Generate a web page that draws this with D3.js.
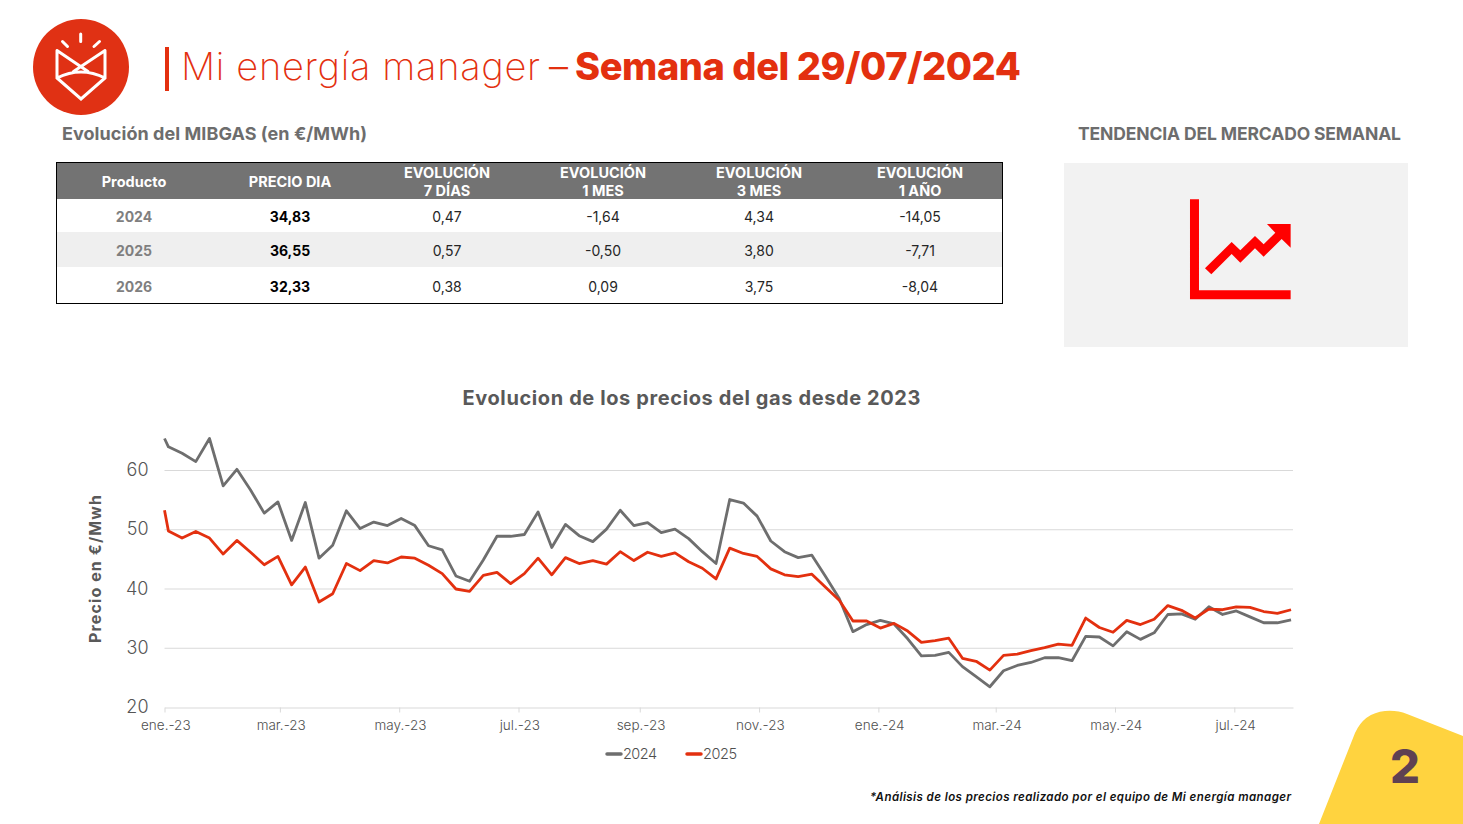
<!DOCTYPE html>
<html lang="es">
<head>
<meta charset="UTF-8">
<title>Mi energía manager</title>
<script src="https://cdn.jsdelivr.net/npm/d3@7"></script>
<style>
  html, body { margin: 0; padding: 0; background: #fff; }
  svg { display: block; }
  text { font-family: Inter, "Open Sans", sans-serif; }
</style>
</head>
<body>
<div id="slide"></div>
<script>
// series (weekly points)
var serie2024 = [65.4,64.0,62.9,61.5,65.4,57.4,60.2,56.7,52.8,54.7,48.2,54.6,45.2,47.4,53.2,50.2,51.3,50.7,51.9,50.7,47.3,46.6,42.2,41.3,44.9,48.9,48.9,49.2,53.0,47.0,50.9,49.0,48.0,50.1,53.3,50.7,51.2,49.5,50.1,48.5,46.3,44.3,55.1,54.5,52.3,48.1,46.3,45.3,45.7,42.1,38.4,32.8,34.0,34.7,34.1,31.6,28.7,28.8,29.3,26.9,25.2,23.5,26.2,27.1,27.6,28.4,28.4,27.9,32.0,31.9,30.4,32.8,31.5,32.6,35.7,35.8,34.9,37.0,35.7,36.3,35.3,34.3,34.3,34.8];
var serie2025 = [53.3,49.8,48.6,49.7,48.6,45.9,48.2,46.2,44.1,45.5,40.7,43.7,37.8,39.2,44.3,43.1,44.8,44.4,45.4,45.2,44.0,42.6,40.0,39.6,42.3,42.8,40.9,42.6,45.2,42.4,45.3,44.3,44.8,44.2,46.3,44.8,46.2,45.5,46.1,44.6,43.5,41.7,46.9,46.0,45.5,43.4,42.4,42.1,42.5,40.3,38.1,34.6,34.6,33.4,34.2,32.9,31.0,31.3,31.7,28.3,27.8,26.3,28.8,29.0,29.6,30.1,30.7,30.5,35.1,33.5,32.7,34.7,34.0,34.9,37.2,36.4,35.1,36.6,36.5,37.0,36.9,36.2,35.9,36.5];
var yTicks = [20, 30, 40, 50, 60];
var xTickDates = ["2023-01-01","2023-03-01","2023-05-01","2023-07-01","2023-09-01","2023-11-01","2024-01-01","2024-03-01","2024-05-01","2024-07-01"];
var xTickLabels = ["ene.-23","mar.-23","may.-23","jul.-23","sep.-23","nov.-23","ene.-24","mar.-24","may.-24","jul.-24"];
var legendNames = ["2024", "2025"];

// table
var tableHeaders = [["Producto"],["PRECIO DIA"],["EVOLUCIÓN","7 DÍAS"],["EVOLUCIÓN","1 MES"],["EVOLUCIÓN","3 MES"],["EVOLUCIÓN","1 AÑO"]];
var productos = ["2024","2025","2026"];
var precioDia = ["34,83","36,55","32,33"];
var evol7d = ["0,47","0,57","0,38"];
var evol1m = ["-1,64","-0,50","0,09"];
var evol3m = ["4,34","3,80","3,75"];
var evol1y = ["-14,05","-7,71","-8,04"];

var RED = "#e3300f", GREY = "#6e6e6e", TXT = "#595959", GRID = "#d9d9d9";

var svg = d3.select("#slide").append("svg").attr("width", 1463).attr("height", 824);

// helper, all the slide text goes through here
function txt(g, x, y, s, size, weight, fill, anchor, len) {
	var t = g.append("text").attr("x", x).attr("y", y).text(s)
		.attr("font-size", size).attr("font-weight", weight)
		.attr("fill", fill).attr("text-anchor", anchor || "start");
	if (len) t.attr("textLength", len);
	return t;
}

//------ header
var head = svg.append("g");
head.append("circle").attr("cx", 81).attr("cy", 67).attr("r", 48).attr("fill", "#e03114");
var logo = head.append("g").attr("fill", "none").attr("stroke", "#fff").attr("stroke-width", 3).attr("stroke-linecap", "round");
logo.append("path").attr("d", "M57 50.5V78L81 99L105 78V50.5M57 50.5L88 71.5M105 50.5L73.5 71.5M57 78Q81 66 105 78");
logo.append("path").attr("d", "M80.7 34V41.5M62.5 41.5L67.5 46.5M99.5 41.5L94 46.5");

head.append("rect").attr("x", 165).attr("y", 47).attr("width", 4).attr("height", 44).attr("fill", RED);
txt(head, 181, 80, "Mi energía manager", 38, 200, RED, "start", 359);
txt(head, 549, 80, "–", 38, 300, RED, "start", 19);
txt(head, 575, 80, "Semana del 29/07/2024", 38, 800, RED, "start", 446);

txt(svg, 62, 140, "Evolución del MIBGAS (en €/MWh)", 18, 700, "#6d6d6d", "start", 305);
txt(svg, 1078, 140, "TENDENCIA DEL MERCADO SEMANAL", 17.5, 700, "#6d6d6d", "start", 323);

//------ table
var colX = [134, 290, 447, 603, 759, 920];
var rowY = [222, 256, 292];
var table = svg.append("g");
table.append("rect").attr("x", 57).attr("y", 163).attr("width", 945).attr("height", 36).attr("fill", "#737373");
table.append("rect").attr("x", 57).attr("y", 232).attr("width", 945).attr("height", 35).attr("fill", "#efefef");
table.append("rect").attr("x", 56.5).attr("y", 162.5).attr("width", 946).attr("height", 141)
	.attr("fill", "none").attr("stroke", "#000").attr("stroke-width", 1);

tableHeaders.forEach(function(lines, i) {
	if (lines.length == 1) {
		txt(table, colX[i], 187, lines[0], 14.5, 700, "#fff", "middle");
	} else {
		txt(table, colX[i], 178, lines[0], 14.5, 700, "#fff", "middle");
		txt(table, colX[i], 196, lines[1], 14.5, 700, "#fff", "middle");
	}
});
var cols = [productos, precioDia, evol7d, evol1m, evol3m, evol1y];
cols.forEach(function(col, i) {
	col.forEach(function(v, r) {
		var weight = i < 2 ? 700 : 400;
		var fill = i == 0 ? "#7f7f7f" : (i == 1 ? "#000" : "#262626");
		txt(table, colX[i], rowY[r], v, 14, weight, fill, "middle");
	});
});

//------ trend panel
svg.append("rect").attr("x", 1064).attr("y", 163).attr("width", 344).attr("height", 184).attr("fill", "#f2f2f2");
svg.append("path").attr("fill", "#ff0000")
	.attr("transform", "translate(1060,160) scale(0.3333)")
	.attr("d", "M390 118H417V391H692V418H390Z M435 325L515 246L541 271L585 228L611 253L646 218L621 192H692V263L665 237L611 290L585 265L541 308L515 282L454 343Z");

//------ chart
var parse = d3.utcParse("%Y-%m-%d");
var first = parse("2023-01-03");
// one point on 1 jan, then weekly from 3 jan
var dates = [parse("2023-01-01")].concat(d3.range(serie2024.length - 1).map(function(i) {
	return d3.utcDay.offset(first, i * 7);
}));

var x = d3.scaleUtc().domain([parse("2023-01-01"), parse("2024-07-31")]).range([164.5, 1293]);
var y = d3.scaleLinear().domain([20, 60]).range([707.5, 470.5]);

txt(svg, 691.5, 405, "Evolucion de los precios del gas desde 2023", 20, 700, TXT, "middle", 458);

var grid = svg.append("g").attr("stroke", GRID).attr("stroke-width", 1);
grid.selectAll("line").data(yTicks.slice(1)).enter().append("line")
	.attr("x1", 164.5).attr("x2", 1293)
	.attr("y1", function(d) { return y(d); })
	.attr("y2", function(d) { return y(d); });

var xAxis = d3.axisBottom(x)
	.tickValues(xTickDates.map(parse))
	.tickFormat(function(d, i) { return xTickLabels[i]; })
	.tickSize(5).tickSizeOuter(0);
var gx = svg.append("g").attr("transform", "translate(0,707.5)").call(xAxis);
gx.selectAll("path, line").attr("stroke", GRID);
gx.selectAll("text").attr("font-size", 13.5).attr("font-weight", 300).attr("fill", "#4f4f4f")
	.attr("y", 13).attr("dy", "0.71em").attr("dx", 0.8)
	.style("font-family", "Inter");

var yAxis = d3.axisLeft(y).tickValues(yTicks).tickSize(0).tickPadding(16);
var gy = svg.append("g").attr("transform", "translate(164.5,0)").call(yAxis);
gy.select("path").remove();
gy.selectAll("text").attr("font-size", 18).attr("font-weight", 300).attr("fill", "#555").attr("dy", "0.28em")
	.style("font-family", "Inter");

var line = d3.line()
	.x(function(d) { return x(d[0]); })
	.y(function(d) { return y(d[1]); });

[serie2024, serie2025].forEach(function(serie, i) {
	svg.append("path")
		.datum(d3.zip(dates, serie))
		.attr("d", line)
		.attr("fill", "none")
		.attr("stroke", i == 0 ? GREY : RED)
		.attr("stroke-width", 2.8)
		.attr("stroke-linejoin", "round");
});

txt(svg, 0, 0, "Precio en €/Mwh", 16, 700, TXT, "middle", 148)
	.attr("transform", "translate(101,569) rotate(-90)");

// legend
var legendX = [606, 686];
legendNames.forEach(function(name, i) {
	svg.append("line").attr("x1", legendX[i] + 1).attr("x2", legendX[i] + 15)
		.attr("y1", 754).attr("y2", 754)
		.attr("stroke", i == 0 ? GREY : RED).attr("stroke-width", 3.5).attr("stroke-linecap", "round");
	txt(svg, legendX[i] + 17, 759, name, 14.5, 300, "#4f4f4f", "start", 34);
});

txt(svg, 870, 801, "*Análisis de los precios realizado por el equipo de Mi energía manager", 11.5, 600, "#111", "start", 421)
	.attr("font-style", "italic");

//------ page number corner
svg.append("path").attr("fill", "#ffd33f")
	.attr("d", "M1319 824L1355 733Q1364 713 1385 711Q1397 710 1407 714L1463 736V824Z");
txt(svg, 1405, 783, "2", 47, 800, "#5f4152", "middle");
</script>
</body>
</html>
